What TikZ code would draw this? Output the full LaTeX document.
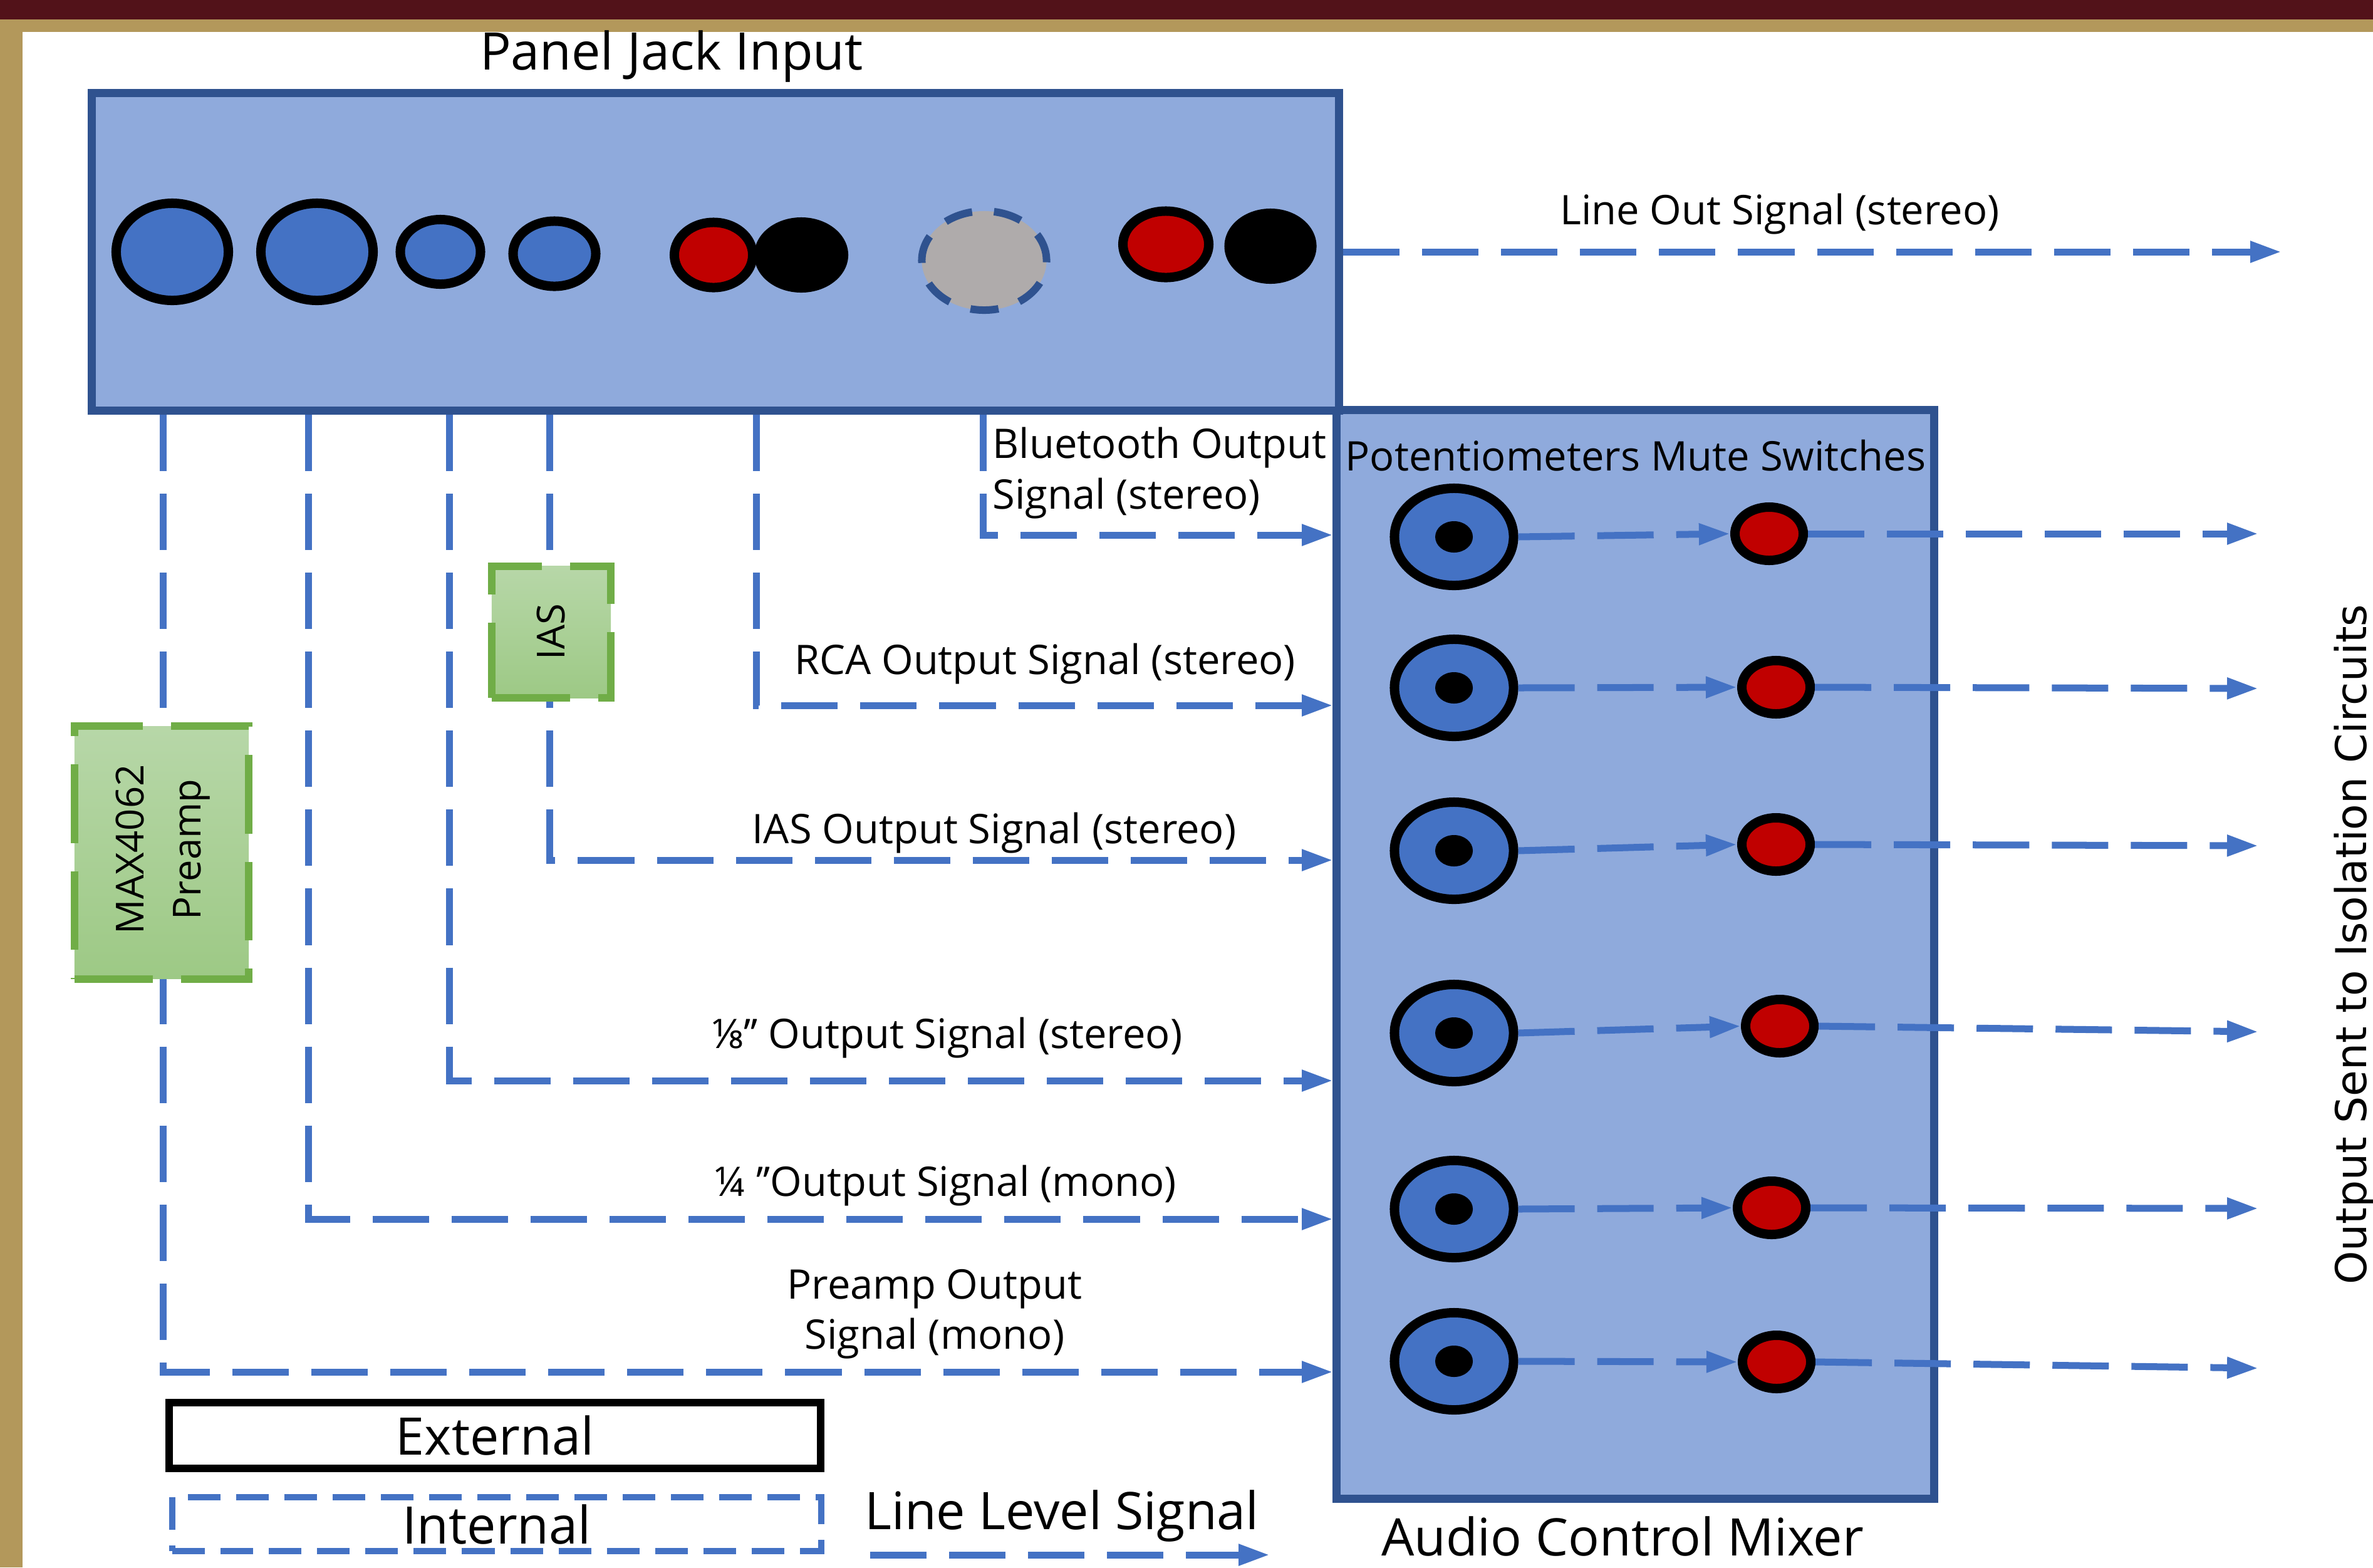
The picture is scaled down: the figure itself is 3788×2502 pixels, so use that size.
\documentclass[tikz,border=0pt]{standalone}
\usepackage{fontspec}
\setmainfont{Open Sans}
\newfontfamily\sidefont{DejaVu Sans}
\usepackage{xcolor}
\usetikzlibrary{shapes.geometric,arrows.meta}
\definecolor{panelFill}{HTML}{8FAADC}
\definecolor{panelEdge}{HTML}{2F528F}
\definecolor{jackBlue}{HTML}{4472C4}
\definecolor{jackRed}{HTML}{C00000}
\definecolor{jackGray}{HTML}{AFABAB}
\definecolor{ampTop}{HTML}{B7D7A8}
\definecolor{ampBottom}{HTML}{9DC985}
\definecolor{ampEdge}{HTML}{70AD47}
\definecolor{bandRed}{HTML}{521219}
\definecolor{bandGold}{HTML}{B3985B}
\newcommand{\sigfont}{\fontsize{18.5}{22.8}\selectfont}
\newcommand{\headfont}{\fontsize{23.5}{28}\selectfont}
\newcommand{\ampfont}{\fontsize{17.5}{26}\selectfont}
\tikzset{
  unitbox/.style={rectangle,draw=panelEdge,fill=panelFill,line width=0.13cm,inner sep=0pt},
  jack/.style={ellipse,draw=black,line width=0.15cm,inner sep=0pt},
  plug/.style={ellipse,fill=black,inner sep=0pt},
  knob/.style={jack,fill=jackBlue,minimum width=1.90cm,minimum height=1.55cm},
  mute/.style={jack,fill=jackRed,minimum width=1.09cm,minimum height=0.85cm},
  ampbox/.style={rectangle,draw=ampEdge,top color=ampTop,bottom color=ampBottom,
    line width=0.12cm,dash pattern=on 1.25cm off 0.45cm,inner sep=0pt},
  amplabel/.style={rotate=90,align=center,inner sep=0pt,font=\ampfont},
  sig/.style={draw=jackBlue,line width=0.11cm,dash pattern=on 0.9cm off 0.36cm,
    -{Triangle[length=0.5cm,width=0.32cm]}},
  siglabel/.style={font=\sigfont,inner sep=0pt},
  headlabel/.style={font=\headfont,inner sep=0pt}
}

\begin{document}
\begin{tikzpicture}[x=0.01cm,y=-0.01cm]
\useasboundingbox (0,0) rectangle (3788,2502);
\fill[white] (0,0) rectangle (3788,2502);
\fill[bandGold] (0,31) rectangle (3788,51);
\fill[bandGold] (0,31) rectangle (36,2502);
\fill[bandRed] (0,0) rectangle (3788,31);

% panel and mixer
\node[unitbox, minimum width=9.53cm, minimum height=17.37cm] (mixer) at (2610.5,1523.5) {};
\node[unitbox, minimum width=19.90cm, minimum height=5.06cm] (panel) at (1142,402) {};
\node[headlabel] (paneltitle) at (1072,90) {Panel Jack Input};
\node[siglabel] (mixtitle) at (2611,727) {Potentiometers Mute Switches};
\node[headlabel] (mixname) at (2590,2452) {Audio Control Mixer};

% jacks on the panel
\node[jack, fill=jackBlue, minimum width=1.79cm, minimum height=1.55cm] (quarterA) at (275,402) {};
\node[jack, fill=jackBlue, minimum width=1.79cm, minimum height=1.55cm] (quarterB) at (506,402) {};
\node[jack, fill=jackBlue, minimum width=1.28cm, minimum height=1.03cm] (eighthA) at (703,402) {};
\node[jack, fill=jackBlue, minimum width=1.32cm, minimum height=1.04cm] (eighthB) at (885,405) {};
\node[jack, fill=jackRed, minimum width=1.25cm, minimum height=1.04cm] (rcaR) at (1139,407) {};
\node[plug, minimum width=1.50cm, minimum height=1.20cm] (rcaL) at (1279,407) {};
\node[ellipse, draw=panelEdge, fill=jackGray, line width=0.12cm, dash pattern=on 0.45cm off 0.35cm,
  minimum width=1.99cm, minimum height=1.58cm, inner sep=0pt] (bt) at (1571,416) {};
\node[jack, fill=jackRed, minimum width=1.37cm, minimum height=1.06cm] (lineR) at (1861,390) {};
\node[plug, minimum width=1.47cm, minimum height=1.20cm] (lineL) at (2028,393) {};

% line out
\coordinate (lineout) at (3642,402);
\draw[sig] (panel.east) -- (lineout);
\node[siglabel] (lbllineout) at (2841,342) {Line Out Signal (stereo)};

% signals into the mixer
\coordinate (p1) at (260,662);
\coordinate (p2) at (492,662);
\coordinate (p3) at (717,662);
\coordinate (p4) at (877,662);
\coordinate (p5) at (1207,662);
\coordinate (p6) at (1569,662);
\coordinate (m1) at (2128,854);
\coordinate (m2) at (2128,1126);
\coordinate (m3) at (2128,1373);
\coordinate (m4) at (2128,1725);
\coordinate (m5) at (2128,1946);
\coordinate (m6) at (2128,2190);
\draw[sig] (p6) |- (m1);
\draw[sig] (p5) |- (m2);
\draw[sig] (p4) |- (m3);
\draw[sig] (p3) |- (m4);
\draw[sig] (p2) |- (m5);
\draw[sig] (p1) |- (m6);

\node[siglabel, align=left, anchor=west] (lblbt) at (1584,755) {Bluetooth Output\\Signal (stereo)};
\node[siglabel] (lblrca) at (1668,1060) {RCA Output Signal (stereo)};
\node[siglabel] (lblias) at (1587,1330) {IAS Output Signal (stereo)};
\node[siglabel] (lbleighth) at (1512,1657) {⅛’’ Output Signal (stereo)};
\node[siglabel] (lblquarter) at (1509,1893) {¼ ’’Output Signal (mono)};
\node[siglabel, align=center] (lblpre) at (1492,2098) {Preamp Output\\Signal (mono)};

% internal boxes
\node[ampbox, minimum width=1.90cm, minimum height=2.10cm] (ias) at (880,1009) {};
\node[amplabel] (iastext) at (ias) {IAS};
\node[ampbox, minimum width=2.78cm, minimum height=4.03cm] (preamp) at (258,1361) {};
\node[amplabel] (preamptext) at (260,1356) {MAX4062\\Preamp};

% potentiometers and mute switches
\node[knob] (k1) at (2321,857) {};
\node[knob] (k2) at (2321,1098) {};
\node[knob] (k3) at (2321,1358) {};
\node[knob] (k4) at (2321,1649) {};
\node[knob] (k5) at (2321,1930) {};
\node[knob] (k6) at (2321,2173) {};
\node[plug, minimum width=0.6cm, minimum height=0.5cm] (d1) at (k1) {};
\node[plug, minimum width=0.6cm, minimum height=0.5cm] (d2) at (k2) {};
\node[plug, minimum width=0.6cm, minimum height=0.5cm] (d3) at (k3) {};
\node[plug, minimum width=0.6cm, minimum height=0.5cm] (d4) at (k4) {};
\node[plug, minimum width=0.6cm, minimum height=0.5cm] (d5) at (k5) {};
\node[plug, minimum width=0.6cm, minimum height=0.5cm] (d6) at (k6) {};
\node[mute] (s1) at (2824,852) {};
\node[mute] (s2) at (2835,1097) {};
\node[mute] (s3) at (2835,1348) {};
\node[mute] (s4) at (2841,1638) {};
\node[mute] (s5) at (2828,1928) {};
\node[mute] (s6) at (2836,2174) {};
\draw[sig] (k1.east) -- (s1.west);
\draw[sig] (k2.east) -- (s2.west);
\draw[sig] (k3.east) -- (s3.west);
\draw[sig] (k4.east) -- (s4.west);
\draw[sig] (k5.east) -- (s5.west);
\draw[sig] (k6.east) -- (s6.west);

% outputs
\coordinate (o1) at (3605,852);
\coordinate (o2) at (3605,1099);
\coordinate (o3) at (3605,1350);
\coordinate (o4) at (3605,1647);
\coordinate (o5) at (3605,1929);
\coordinate (o6) at (3605,2184);
\draw[sig] (s1.east) -- (o1);
\draw[sig] (s2.east) -- (o2);
\draw[sig] (s3.east) -- (o3);
\draw[sig] (s4.east) -- (o4);
\draw[sig] (s5.east) -- (o5);
\draw[sig] (s6.east) -- (o6);
\node[rotate=90, anchor=north, inner sep=0pt, font={\sidefont\fontsize{19.3}{23}\selectfont}] (iso) at (3725,1508) {Output Sent to Isolation Circuits};

% legend
\node[draw=black, line width=0.12cm, minimum width=10.4cm, minimum height=1.05cm, inner sep=0pt, font=\headfont] (ext) at (790,2291) {External};
\node[draw=jackBlue, line width=0.10cm, dash pattern=on 0.52cm off 0.25cm, minimum width=10.35cm, minimum height=0.86cm, inner sep=0pt, font=\headfont] (int) at (793,2433) {Internal};
\coordinate (ll1) at (1389,2482);
\coordinate (ll2) at (2027,2482);
\draw[sig] (ll1) -- (ll2);
\node[headlabel] (lblline) at (1695,2420) {Line Level Signal};
\end{tikzpicture}
\end{document}
